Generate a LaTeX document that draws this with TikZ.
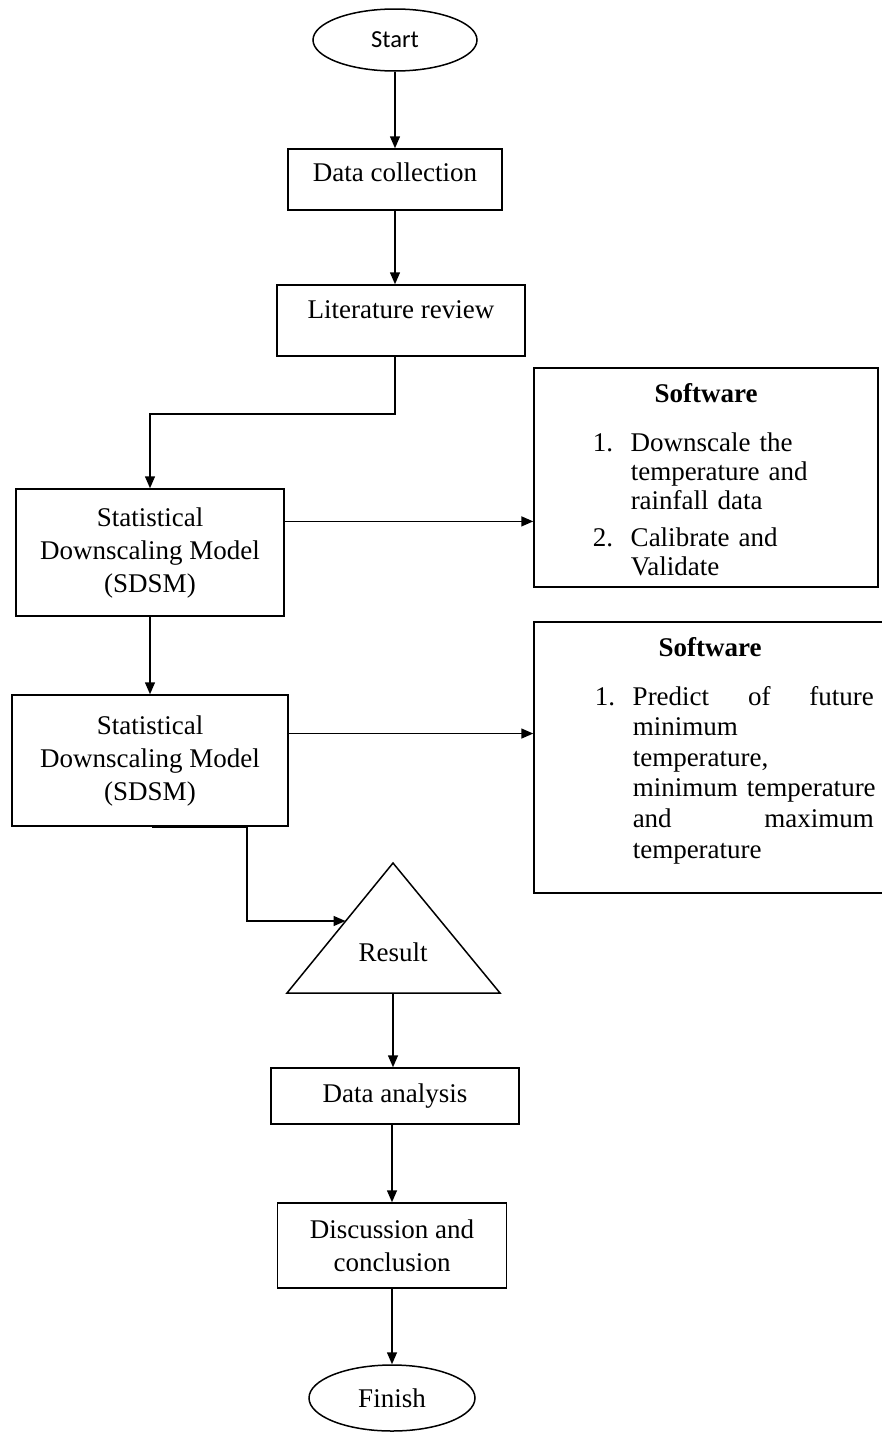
\documentclass[tikz,border=0pt]{standalone}
\usepackage{fontspec}
\setmainfont{Liberation Serif}
\newfontfamily\startfont{Carlito}
\usetikzlibrary{arrows.meta,shapes.geometric}
\begin{document}
\begin{tikzpicture}[x=1pt,y=-1pt,
  line width=1.5pt,
  box/.style={draw, rectangle, inner sep=0pt, align=center, font=\fontsize{27}{33}\selectfont},
  oval/.style={draw, ellipse, inner sep=0pt},
  arr/.style={-{Triangle[length=12pt,width=10pt]}},
  txt/.style={inner sep=0pt, font=\fontsize{27}{33}\selectfont},
  head/.style={inner sep=0pt, font=\bfseries\fontsize{27}{29}\selectfont},
  listA/.style={anchor=base west, inner sep=0pt, text width=300pt, align=left, font=\fontsize{27}{29}\selectfont},
  listB/.style={anchor=base west, inner sep=0pt, text width=300pt, align=left, font=\fontsize{27}{30.6}\selectfont}]
\useasboundingbox (0,0) rectangle (881,1432);

% nodes
\node[oval, minimum width=164pt, minimum height=62pt, font=\startfont\fontsize{24.5}{29}\selectfont] (start) at (395,40) {Start};
\node[box, minimum width=214pt, minimum height=61pt, text height=19pt, text depth=15pt] (dc) at (395,179.5) {Data collection};
\node[box, minimum width=248pt, minimum height=71pt, text height=19pt, text depth=23pt] (lr) at (401,320.5) {Literature review};
\node[box, minimum width=268pt, minimum height=127pt] (s1) at (150,552.5) {Statistical\\Downscaling Model\\(SDSM)};
\node[box, minimum width=276pt, minimum height=131pt] (s2) at (150,760.5) {Statistical\\Downscaling Model\\(SDSM)};
\node[draw, rectangle, inner sep=0pt, minimum width=344pt, minimum height=219pt] (sw1) at (706,477.5) {};
\node[draw, rectangle, inner sep=0pt, minimum width=356pt, minimum height=271pt] (sw2) at (712,757.5) {};
\node[head] (sw1h) at (706,393) {Software};
\node[listA] (sw1l) at (592,451) {\makebox[38pt][l]{1.}\mbox{Downscale the}\\
\hspace*{38pt}\mbox{temperature and}\\
\hspace*{38pt}\mbox{rainfall data}\\[8pt]
\makebox[38pt][l]{2.}\mbox{Calibrate and}\\
\hspace*{38pt}Validate};
\node[head] (sw2h) at (710,647) {Software};
\node[listB] (sw2l) at (594,705) {\makebox[38pt][l]{1.}\makebox[241pt][s]{Predict\hfill of\hfill future}\\
\hspace*{38pt}minimum\\
\hspace*{38pt}temperature,\\
\hspace*{38pt}\mbox{minimum temperature}\\
\hspace*{38pt}\makebox[241pt][s]{and\hfill maximum}\\
\hspace*{38pt}temperature};

% result triangle
\coordinate (tapex) at (393,863);
\coordinate (tl) at (287,993);
\coordinate (tr) at (500,993);
\coordinate (tbot) at (393,993);
\coordinate (tin) at (345.5,921);
\draw[line join=miter] (tapex) -- (tr) -- (tl) -- cycle;
\node[txt] (res) at (393,952) {Result};

\node[box, minimum width=248pt, minimum height=56pt] (da) at (395,1096) {Data analysis};
\node[box, minimum width=229pt, minimum height=85pt] (disc) at (392,1245.5) {Discussion and\\conclusion};
\node[oval, minimum width=166pt, minimum height=66pt, font=\fontsize{27}{33}\selectfont] (finish) at (392,1398) {Finish};

% connectors
\draw[arr] (start.south -| dc.north) -- (dc.north);
\draw[arr] (dc.south) -- (dc.south |- lr.north);
\draw[arr] (lr.south -| dc.south) -- ++(0,57) -| (s1.north);
\draw[arr] (s1.13.63) -- (s1.13.63 -| sw1.west);
\draw[arr] (s1.south) -- (s2.north);
\draw[arr] (s2.11.67) -- (s2.11.67 -| sw2.west);
\draw[line width=3pt] (s2.south) ++(2,0) -- ++(95,0) coordinate (kink);
\draw[arr] (kink) |- (tin);
\draw[arr] (tbot) -- (tbot |- da.north);
\draw[arr] (da.south -| disc.north) -- (disc.north);
\draw[arr] (disc.south) -- (finish.north);
\end{tikzpicture}
\end{document}
